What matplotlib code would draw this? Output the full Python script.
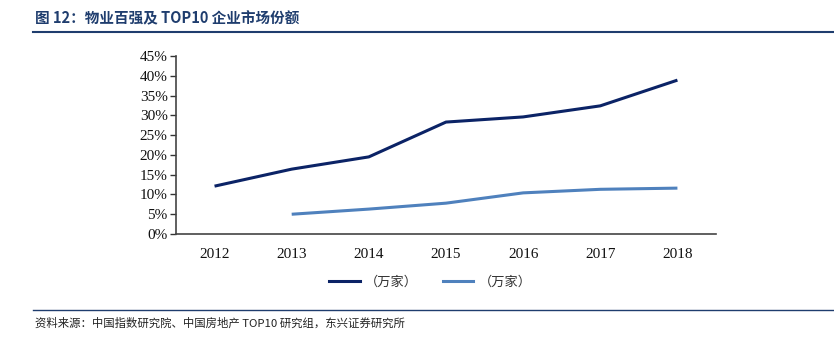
import matplotlib.pyplot as plt
import numpy as np
from matplotlib.lines import Line2D
from matplotlib.ticker import FuncFormatter

years = ["2012", "2013", "2014", "2015", "2016", "2017", "2018"]
top100 = [12.1, 16.4, 19.5, 28.3, 29.6, 32.4, 38.9]
top10 = [np.nan, 5.0, 6.3, 7.8, 10.4, 11.3, 11.6]
legend_labels = ["（万家）", "（万家）"]

dark = "#0B2366"
light = "#4F81BD"
title_blue = "#1F3D6E"
cjk = ["Noto Sans CJK SC", "DejaVu Sans"]
serif = ["Liberation Serif", "DejaVu Serif"]

fig = plt.figure(figsize=(8.34, 3.37), dpi=100)
ax = fig.add_axes([0.211, 0.3056, 0.6475, 0.5282])

x = np.arange(len(years))
ax.plot(x, top100, color=dark, lw=2.2, solid_capstyle="butt")
ax.plot(x, top10, color=light, lw=2.2, solid_capstyle="butt")

ax.set_xlim(-0.5, len(years) - 0.5)
ax.set_ylim(0, 45)
ax.set_yticks(np.arange(0, 46, 5))
ax.yaxis.set_major_formatter(FuncFormatter(lambda v, p: f"{v:.0f}%"))
ax.set_xticks(x)
ax.set_xticklabels(years)
for lab in ax.get_xticklabels() + ax.get_yticklabels():
    lab.set_family(serif)
    lab.set_fontsize(11)
    lab.set_color("#111111")
ax.tick_params(axis="x", length=0, pad=10)
ax.tick_params(axis="y", length=4, width=1, direction="out", pad=2, color="#333333")
for s in ["top", "right"]:
    ax.spines[s].set_visible(False)
for s in ["left", "bottom"]:
    ax.spines[s].set_color("#444444")
    ax.spines[s].set_linewidth(1.2)

handles = [Line2D([], [], color=dark, lw=2.2), Line2D([], [], color=light, lw=2.2)]
leg = fig.legend(handles, legend_labels, loc="center", bbox_to_anchor=(0.516, 0.163),
                 ncol=2, frameon=False, handlelength=2.3, handletextpad=0.4,
                 columnspacing=1.9, prop={"family": cjk, "size": 9.5})
for t in leg.get_texts():
    t.set_color("#333333")

fig.text(0.042, 0.945, "图 12：物业百强及 TOP10 企业市场份额", family=cjk,
         fontsize=10.5, fontweight="bold", color=title_blue, va="center")
fig.add_artist(Line2D([0.04, 1.0], [0.905, 0.905], color=title_blue, lw=1.5,
                      transform=fig.transFigure))
fig.add_artist(Line2D([0.04, 1.0], [0.08, 0.08], color=title_blue, lw=1.0,
                      transform=fig.transFigure))
fig.text(0.042, 0.04, "资料来源：中国指数研究院、中国房地产 TOP10 研究组，东兴证券研究所",
         family=cjk, fontsize=8.2, style="italic", color="#222222", va="center")

fig.savefig("out.png", dpi=100)
